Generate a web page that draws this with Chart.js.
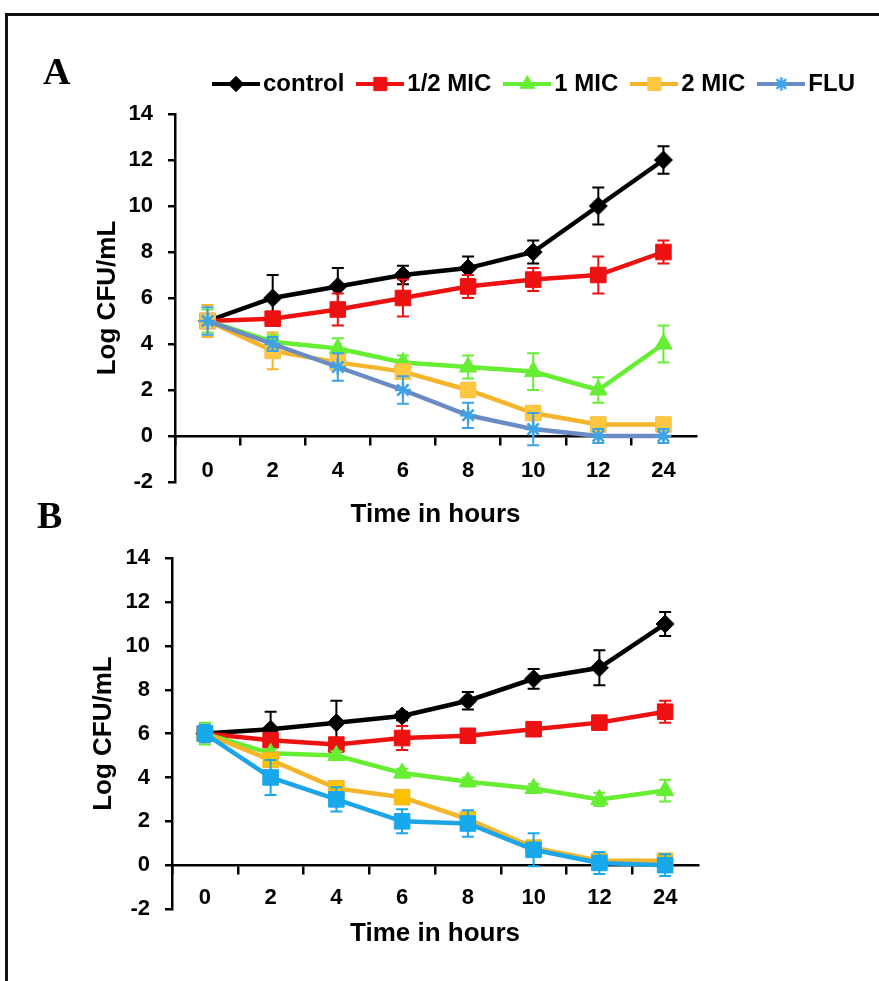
<!DOCTYPE html>
<html><head><meta charset="utf-8">
<script src="https://cdn.jsdelivr.net/npm/chart.js@4.4.1/dist/chart.umd.min.js"></script>
<style>
html,body{margin:0;padding:0;background:#fff;width:879px;height:981px;overflow:hidden;position:relative;}
#frame{position:absolute;left:5px;top:13px;width:874px;height:968px;border-top:3px solid #111;border-left:3px solid #111;box-sizing:border-box;}
.wrap{position:absolute;left:0;width:879px;}
#wa{top:0;height:545px;} #wb{top:530px;height:451px;}
.lbl{position:absolute;font-family:'Liberation Serif','DejaVu Serif',serif;font-weight:bold;font-size:38px;line-height:normal;color:#000;}
</style></head>
<body>
<div id="frame"></div>
<div class="wrap" id="wa"><canvas id="ca" width="879" height="545"></canvas></div>
<div class="wrap" id="wb"><canvas id="cb" width="879" height="451"></canvas></div>
<div class="lbl" style="left:43px;top:49px">A</div>
<div class="lbl" style="left:37px;top:493px">B</div>
<script>
// ---------- data ----------
const hours = ['0', '2', '4', '6', '8', '10', '12', '24'];
const seriesNames = ['control', '1/2 MIC', '1 MIC', '2 MIC', 'FLU'];
const yTicksMin = -2, yTicksMax = 14, yTickStep = 2;

// Panel A
const controlA    = [5, 6.0, 6.5, 7.0, 7.3, 8.0, 10.0, 12.0];
const controlErrA = [0.3, 1.0, 0.8, 0.4, 0.5, 0.5, 0.8, 0.6];
const halfA       = [5, 5.1, 5.5, 6.0, 6.5, 6.8, 7.0, 8.0];
const halfErrA    = [0.3, 0.3, 0.7, 0.8, 0.5, 0.5, 0.8, 0.5];
const oneA        = [5, 4.1, 3.8, 3.2, 3.0, 2.8, 2.0, 4.0];
const oneErrA     = [0.5, 0.3, 0.45, 0.3, 0.5, 0.8, 0.55, 0.8];
const twoA        = [5, 3.7, 3.2, 2.8, 2.0, 1.0, 0.5, 0.5];
const twoErrA     = [0.7, 0.8, 0.3, 0.3, 0.3, 0.3, 0.2, 0.2];
const fluA        = [5, 4.0, 3.0, 2.0, 0.9, 0.3, 0.0, 0.0];
const fluErrA     = [0.6, 0.3, 0.6, 0.6, 0.55, 0.7, 0.3, 0.3];

// Panel B
const controlB    = [6, 6.2, 6.5, 6.8, 7.5, 8.5, 9.0, 11.0];
const controlErrB = [0.3, 0.8, 1.0, 0.2, 0.4, 0.45, 0.8, 0.55];
const halfB       = [6, 5.7, 5.5, 5.8, 5.9, 6.2, 6.5, 7.0];
const halfErrB    = [0.3, 0.2, 0.3, 0.55, 0.2, 0.2, 0.2, 0.5];
const oneB        = [6, 5.1, 5.0, 4.2, 3.8, 3.5, 3.0, 3.4];
const oneErrB     = [0.5, 0.2, 0.2, 0.2, 0.2, 0.2, 0.3, 0.5];
const twoB        = [6, 4.8, 3.5, 3.1, 2.1, 0.8, 0.2, 0.2];
const twoErrB     = [0.4, 0.3, 0.2, 0.2, 0.2, 0.3, 0.2, 0.2];
const fluB        = [6, 4.0, 3.0, 2.0, 1.9, 0.7, 0.1, 0.0];
const fluErrB     = [0.4, 0.8, 0.55, 0.55, 0.6, 0.75, 0.5, 0.5];

// ---------- styles ----------
const FONT = "'Liberation Sans', Arial, sans-serif";
Chart.defaults.color = '#000';
Chart.defaults.font.family = FONT;

const stylesA = [
  {line:'#000000', fill:'#000000', stroke:'#000000', err:'#000000', style:'rectRot', r:9,  bw:1},
  {line:'#EE1111', fill:'#EE1111', stroke:'#EE1111', err:'#EE1111', style:'rect',    r:11, bw:1},
  {line:'#66EE33', fill:'#66EE33', stroke:'#66EE33', err:'#66EE33', style:'triangle',r:10, bw:1},
  {line:'#F5B52A', fill:'#FFC840', stroke:'#F5C04A', err:'#F5B52A', style:'rect',    r:11, bw:1},
  {line:'#6A8BC4', fill:'#3DA3E6', stroke:'#3DA3E6', err:'#3DA3E6', style:'star',    r:8,  bw:2.5}
];
const stylesB = [
  {line:'#000000', fill:'#000000', stroke:'#000000', err:'#000000', style:'rectRot', r:9,  bw:1},
  {line:'#EE1111', fill:'#EE1111', stroke:'#EE1111', err:'#EE1111', style:'rect',    r:11, bw:1},
  {line:'#66EE33', fill:'#66EE33', stroke:'#66EE33', err:'#66EE33', style:'triangle',r:10, bw:1},
  {line:'#F5B52A', fill:'#FFC000', stroke:'#F5B52A', err:'#F5B52A', style:'rect',    r:11, bw:1},
  {line:'#1EA5E8', fill:'#18A8EC', stroke:'#18A8EC', err:'#18A8EC', style:'rect',    r:11, bw:1}
];

function makeDatasets(values, errs, styles) {
  return values.map((v, i) => ({
    label: seriesNames[i],
    data: v,
    errors: errs[i],
    errColor: styles[i].err,
    borderColor: styles[i].line,
    backgroundColor: styles[i].fill,
    borderWidth: 4.5,
    tension: 0,
    pointStyle: styles[i].style,
    pointRadius: styles[i].r,
    pointHoverRadius: styles[i].r,
    pointBackgroundColor: styles[i].fill,
    pointBorderColor: styles[i].stroke,
    pointBorderWidth: styles[i].bw,
    order: values.length - i
  }));
}

// error bar plugin (per dataset, drawn just before the dataset's line)
const errorBars = {
  id: 'errorBars',
  beforeDatasetDraw(chart, args) {
    const ds = chart.data.datasets[args.index];
    if (!ds.errors) return;
    const xs = chart.scales.x, ys = chart.scales.y, ctx = chart.ctx;
    ctx.save();
    ctx.strokeStyle = ds.errColor;
    ctx.lineWidth = 2;
    ds.data.forEach((v, j) => {
      const e = ds.errors[j];
      const px = xs.getPixelForValue(j);
      const t = ys.getPixelForValue(v + e), b = ys.getPixelForValue(v - e);
      ctx.beginPath();
      ctx.moveTo(px, t); ctx.lineTo(px, b);
      ctx.moveTo(px - 6, t); ctx.lineTo(px + 6, t);
      ctx.moveTo(px - 6, b); ctx.lineTo(px + 6, b);
      ctx.stroke();
    });
    ctx.restore();
  }
};

function legendIcon(s) {
  const c = document.createElement('canvas');
  c.width = 48; c.height = 24;
  const g = c.getContext('2d');
  g.strokeStyle = s.line; g.lineWidth = 4;
  g.beginPath(); g.moveTo(0, 12); g.lineTo(48, 12); g.stroke();
  g.fillStyle = s.fill; g.strokeStyle = s.stroke; g.lineWidth = s.bw;
  Chart.helpers.drawPoint(g, {pointStyle: s.style, radius: s.r * 0.85, rotation: 0, borderWidth: s.bw}, 24, 12);
  return c;
}

function buildOptions(cfg) {
  return {
    responsive: false,
    animation: false,
    events: [],
    layout: {padding: cfg.padding},
    plugins: {
      tooltip: {enabled: false},
      legend: cfg.legend ? {
        display: true,
        position: 'top',
        align: 'end',
        labels: {
          usePointStyle: true,
          pointStyleWidth: 30,
          boxHeight: 24,
          padding: 21,
          color: '#000',
          font: {size: 24, weight: 'bold', family: FONT},
          generateLabels: () => seriesNames.map((n, i) => ({
            text: n, pointStyle: legendIcon(stylesA[i]), fillStyle: stylesA[i].fill,
            strokeStyle: stylesA[i].line, lineWidth: 0, hidden: false, datasetIndex: i, fontColor: '#000'
          }))
        }
      } : {display: false}
    },
    scales: {
      x: {
        type: 'category',
        position: {y: 0},
        offset: true,
        grid: {offset: true, drawOnChartArea: false, drawTicks: true, tickLength: 8, lineWidth: 2.5,
               color: c => c.type === 'tick' ? '#000' : 'rgba(0,0,0,0)'},
        border: {display: true, color: '#000', width: 2.5},
        ticks: {color: '#000', font: {size: 22, weight: 'bold', family: FONT}, padding: cfg.xTickPad, maxRotation: 0, autoSkip: false},
        title: {display: true, text: 'Time in hours', color: '#000', font: {size: 26, weight: 'bold', family: FONT}, padding: {top: cfg.xTitlePad, bottom: 0}}
      },
      y: {
        type: 'linear',
        position: 'left',
        min: yTicksMin, max: yTicksMax,
        afterFit: s => { s.width = cfg.yWidth; },
        ticks: {stepSize: yTickStep, color: '#000', font: {size: 22, weight: 'bold', family: FONT}, padding: 15},
        grid: {drawOnChartArea: false, drawTicks: true, tickLength: 7, color: '#000', lineWidth: 2.5},
        border: {display: true, color: '#000', width: 2.5},
        title: {display: true, text: 'Log CFU/mL', color: '#000', font: {size: 26, weight: 'bold', family: FONT}, padding: {top: cfg.yTitlePad, bottom: 0}}
      },
      yR: {
        type: 'linear', position: 'right', display: true,
        grid: {display: false}, border: {display: false}, ticks: {display: false},
        afterFit: s => { s.width = cfg.rightWidth; }
      },
      ...(cfg.topGap ? {xTop: {
        type: 'category', position: 'top', display: true,
        grid: {display: false, drawTicks: false}, border: {display: false}, ticks: {display: false},
        afterFit: s => { s.height = cfg.topGap; }
      }} : {})
    }
  };
}

new Chart(document.getElementById('ca'), {
  type: 'line',
  data: {labels: hours, datasets: makeDatasets([controlA, halfA, oneA, twoA, fluA], [controlErrA, halfErrA, oneErrA, twoErrA, fluErrA], stylesA)},
  options: buildOptions({padding: {top: 51, left: 0, right: 3, bottom: 63}, legend: true, topGap: 8,
                         yWidth: 175, rightWidth: 180, yTitlePad: 92, xTickPad: 14, xTitlePad: 1}),
  plugins: [errorBars]
});

new Chart(document.getElementById('cb'), {
  type: 'line',
  data: {labels: hours, datasets: makeDatasets([controlB, halfB, oneB, twoB, fluB], [controlErrB, halfErrB, oneErrB, twoErrB, fluErrB], stylesB)},
  options: buildOptions({padding: {top: 16, left: 0, right: 0, bottom: 72}, legend: false, topGap: 0,
                         yWidth: 172, rightWidth: 181, yTitlePad: 88, xTickPad: 12, xTitlePad: -5}),
  plugins: [errorBars]
});
</script>
</body></html>
